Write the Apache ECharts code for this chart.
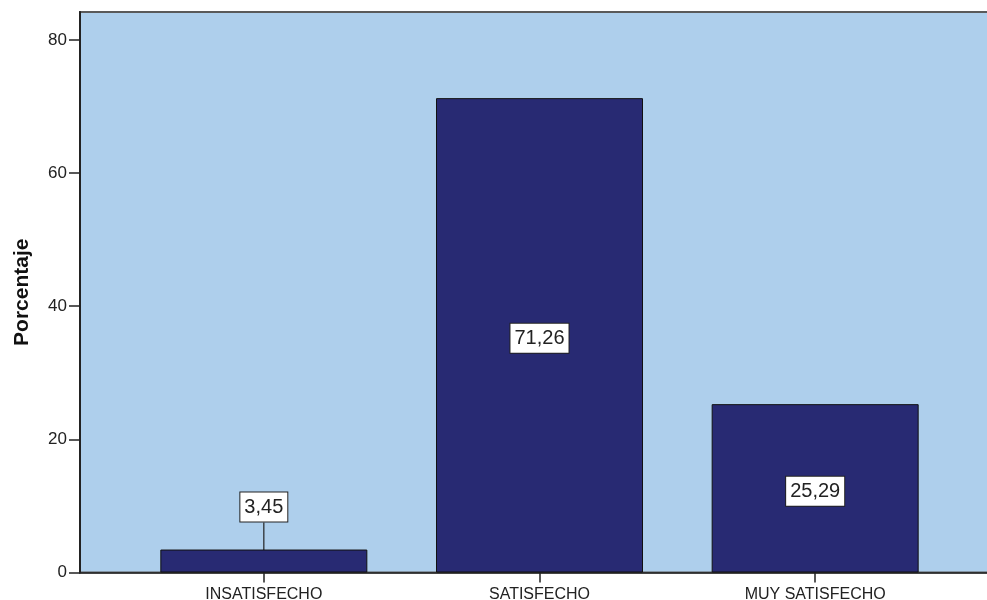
<!DOCTYPE html>
<html>
<head>
<meta charset="utf-8">
<script src="https://cdn.jsdelivr.net/npm/echarts@6/dist/echarts.min.js"></script>
<style>html,body{margin:0;padding:0;background:#fff}#c{width:987px;height:600px}</style>
</head>
<body>
<div id="c"></div>
<script>
const categories = ['INSATISFECHO', 'SATISFECHO', 'MUY SATISFECHO'];
const percentages = [3.45, 71.26, 25.29];
const yTicks = [0, 20, 40, 60, 80];
const yTitle = 'Porcentaje';

const FONT = '"Liberation Sans", Arial, sans-serif';
const chart = echarts.init(document.getElementById('c'), null, {renderer: 'canvas'});
const yMax = 84.2;
chart.setOption({
  animation: false,
  backgroundColor: '#ffffff',
  grid: [
    {left: 80, right: -3, top: 12, bottom: 27.5, show: true, backgroundColor: '#aecfec', borderColor: '#5a5a5a', borderWidth: 2, containLabel: false, outerBoundsMode: 'none'},
    {left: 126, right: 34, top: 12, bottom: 27.5, containLabel: false, outerBoundsMode: 'none'}
  ],
  xAxis: [
    {gridIndex: 0, type: 'value', min: 0, max: 1, axisLine: {show: true, onZero: false, lineStyle: {color: '#222', width: 1.5}}, axisTick: {show: false}, axisLabel: {show: false}, splitLine: {show: false}},
    {gridIndex: 1, type: 'category', data: categories, axisLine: {show: false}, axisTick: {show: true, alignWithLabel: true, length: 10, lineStyle: {color: '#222', width: 1.5}},
     axisLabel: {fontFamily: FONT, fontSize: 16, color: '#222', margin: 14}}
  ],
  yAxis: [
    {gridIndex: 0, type: 'value', min: 0, max: yMax, name: yTitle, nameLocation: 'middle', nameGap: 47, nameRotate: 90,
     nameTextStyle: {fontFamily: FONT, fontSize: 21, fontWeight: 'bold', color: '#111'},
     axisLine: {show: true, lineStyle: {color: '#222', width: 2}},
     axisTick: {show: true, length: 11, customValues: yTicks, lineStyle: {color: '#222', width: 1.5}},
     axisLabel: {fontFamily: FONT, fontSize: 17, color: '#222', margin: 13, customValues: yTicks},
     splitLine: {show: false}},
    {gridIndex: 1, type: 'value', min: 0, max: yMax, show: false, splitLine: {show: false}}
  ],
  series: [{
    type: 'bar',
    xAxisIndex: 1, yAxisIndex: 1,
    barWidth: 207,
    itemStyle: {color: '#282a73', borderColor: '#111', borderWidth: 1},
    data: percentages.map((v, i) => i === 0 ? {value: v, label: {position: 'top', distance: 0}} : v),
    label: {
      show: true, position: 'inside',
      formatter: p => p.value.toFixed(2).replace('.', ','),
      fontFamily: FONT, fontSize: 20, color: '#222', lineHeight: 22,
      backgroundColor: '#ffffff', borderColor: '#222', borderWidth: 1, padding: [4, 4, 3, 4]
    },
    labelLayout: p => p.dataIndex === 0 ? {dy: -28} : {dy: 3},
    labelLine: {show: true, lineStyle: {color: '#222', width: 1.2}}
  }]
});
</script>
</body>
</html>
